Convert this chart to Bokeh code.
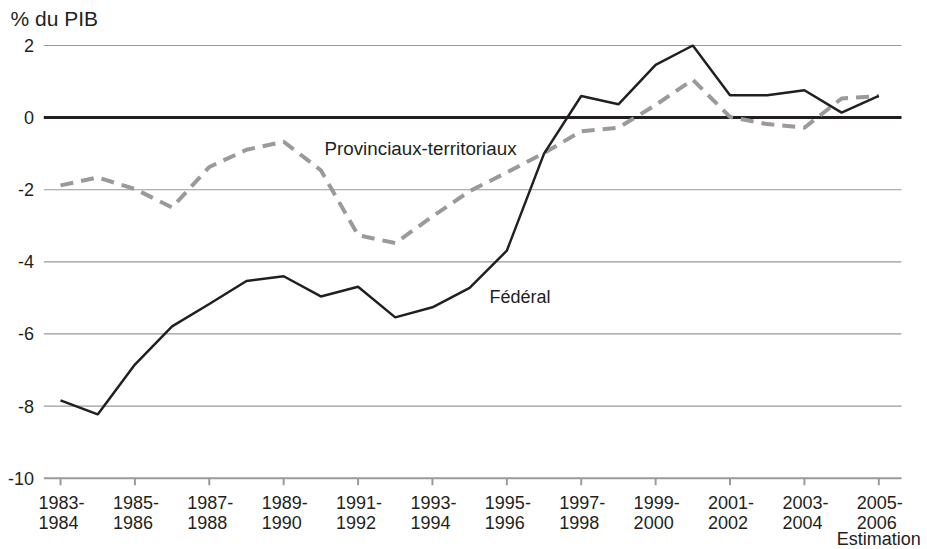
from bokeh.plotting import figure
from bokeh.models import Range1d
from bokeh.core.properties import value
from bokeh.embed import file_html
from bokeh.resources import INLINE

# ---------------- data ----------------
years = ["1983-1984", "1984-1985", "1985-1986", "1986-1987", "1987-1988", "1988-1989",
         "1989-1990", "1990-1991", "1991-1992", "1992-1993", "1993-1994", "1994-1995",
         "1995-1996", "1996-1997", "1997-1998", "1998-1999", "1999-2000", "2000-2001",
         "2001-2002", "2002-2003", "2003-2004", "2004-2005", "2005-2006"]
federal = [-7.84, -8.23, -6.85, -5.79, -5.17, -4.53, -4.40, -4.96, -4.69, -5.54, -5.26, -4.72,
           -3.69, -1.00, 0.60, 0.37, 1.46, 2.00, 0.62, 0.62, 0.76, 0.14, 0.60]
provincial = [-1.88, -1.66, -1.98, -2.49, -1.37, -0.89, -0.67, -1.46, -3.26, -3.48, -2.74, -2.04,
              -1.52, -0.98, -0.38, -0.28, 0.35, 1.05, 0.02, -0.18, -0.28, 0.53, 0.60]
y_ticks = [2, 0, -2, -4, -6, -8, -10]
y_title = "% du PIB"
label_prov = "Provinciaux-territoriaux"
label_fed = "Fédéral"
estimation_note = "Estimation"

# ---------------- layout (canvas pixels) ----------------
W, H = 927, 549
AREA_L, AREA_R, AREA_T, AREA_B = 43.3, 901.0, 45.0, 477.7   # plot area
X0_PX = 60.0                                                # px of first category
PX_X = 37.195                                               # px per category step
Y_MAX, Y_MIN = 2.0, -10.0
PX_Y = (AREA_B - AREA_T) / (Y_MAX - Y_MIN)

def xd(px):  # canvas px -> data x
    return (px - X0_PX) / PX_X

def yd(px):  # canvas px (from top) -> data y
    return Y_MAX - (px - AREA_T) / PX_Y

FONT = "Liberation Sans"
TXT = "#231f20"
GRID = "#9a9a9a"

p = figure(width=W, height=H, output_backend="svg", toolbar_location=None,
           x_range=Range1d(xd(0), xd(W)), y_range=Range1d(yd(H), yd(0)),
           min_border=0, min_border_left=0, min_border_right=0,
           min_border_top=0, min_border_bottom=0)
p.xaxis.visible = False
p.yaxis.visible = False
p.grid.visible = False
p.outline_line_color = None
p.background_fill_color = "white"
p.border_fill_color = "white"

xl, xr = xd(AREA_L), xd(AREA_R)

# grid lines (except zero and bottom)
grid_vals = [t for t in y_ticks if t not in (0, Y_MIN)]
p.segment(x0=[xl] * len(grid_vals), x1=[xr] * len(grid_vals), y0=grid_vals, y1=grid_vals,
          line_color=GRID, line_width=1.2)

# bottom axis line and ticks
tick_idx = list(range(0, len(years), 2))
p.segment(x0=[xl], x1=[xr], y0=[Y_MIN], y1=[Y_MIN], line_color=GRID, line_width=2)
tick_len = 7 / PX_Y
p.segment(x0=tick_idx, x1=tick_idx, y0=[Y_MIN] * len(tick_idx),
          y1=[Y_MIN - tick_len] * len(tick_idx), line_color=GRID, line_width=2)

# zero line
p.segment(x0=[xl], x1=[xr], y0=[0], y1=[0], line_color=TXT, line_width=3)

# series
x = list(range(len(years)))
p.line(x, provincial, line_color="#9a9a9a", line_width=4, line_dash="13 8")
p.line(x, federal, line_color=TXT, line_width=2.5)

# y tick labels
p.text(x=[xd(AREA_L - 9.8)] * len(y_ticks), y=y_ticks, text=[str(t) for t in y_ticks],
       text_font=value(FONT), text_font_size="18px", text_color=TXT,
       text_align="right", text_baseline="middle")

# x tick labels (two lines, left-aligned block centred on the tick)
line1 = [years[i].split("-")[0] + "-" for i in tick_idx]
line2 = [years[i].split("-")[1] for i in tick_idx]
lab_x = [i - 22.0 / PX_X for i in tick_idx]
p.text(x=lab_x, y=[yd(501.7)] * len(tick_idx), text=line1, text_font=value(FONT),
       text_font_size="18px", text_color=TXT, text_align="left", text_baseline="middle")
p.text(x=lab_x, y=[yd(521.7)] * len(tick_idx), text=line2, text_font=value(FONT),
       text_font_size="18px", text_color=TXT, text_align="left", text_baseline="middle")
p.text(x=[tick_idx[-1]], y=[yd(538.5)], text=[estimation_note],
       text_font=value(FONT), text_font_size="18px", text_color=TXT,
       text_align="center", text_baseline="middle")

# title
p.text(x=[xd(10)], y=[yd(18)], text=[y_title], text_font=value(FONT), text_font_size="21px",
       text_color=TXT, text_align="left", text_baseline="middle")

# series labels
p.text(x=[xd(324)], y=[yd(147.7)], text=[label_prov], text_font=value(FONT),
       text_font_size="18.8px", text_color=TXT, text_align="left", text_baseline="middle")
p.text(x=[xd(489)], y=[yd(296)], text=[label_fed], text_font=value(FONT),
       text_font_size="18px", text_color=TXT, text_align="left", text_baseline="middle")

open("out.html", "w").write(file_html(p, INLINE))
